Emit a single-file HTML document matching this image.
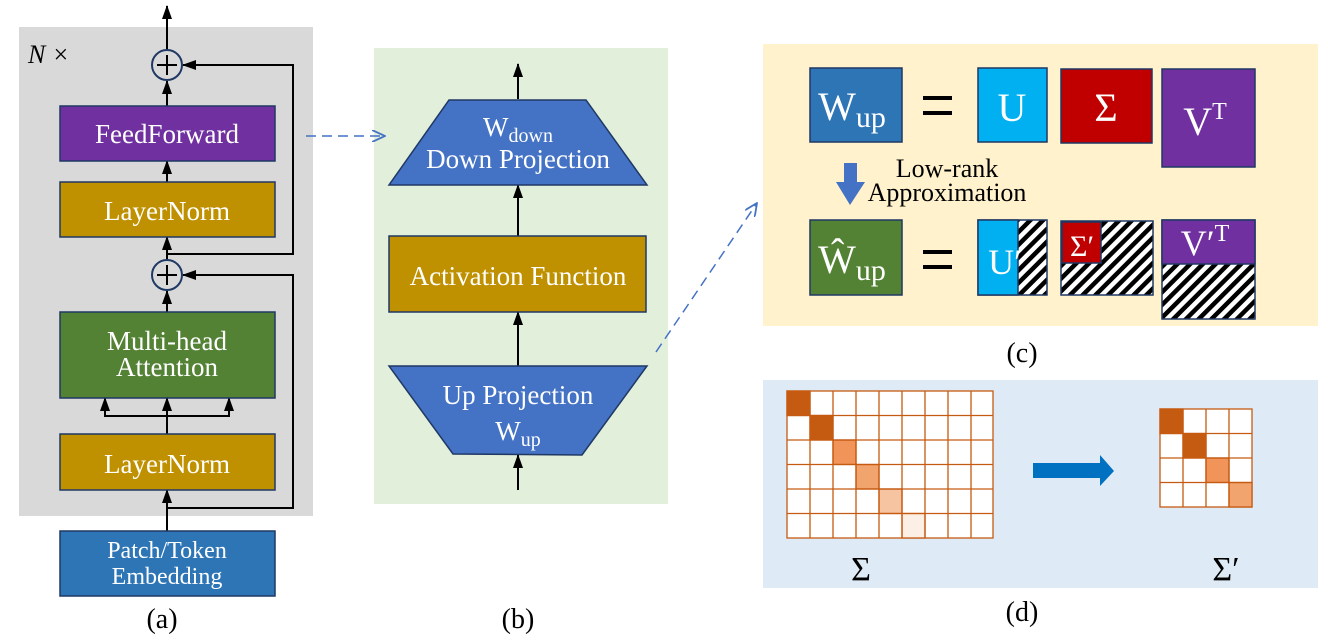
<!DOCTYPE html>
<html><head><meta charset="utf-8"><style>body{margin:0;background:#fff}svg{display:block}text{font-family:"Liberation Serif",serif}</style></head><body>
<svg width="1328" height="643" viewBox="0 0 1328 643" xmlns="http://www.w3.org/2000/svg">
<defs>
<marker id="ar" markerWidth="14" markerHeight="10" refX="13" refY="5" orient="auto" markerUnits="userSpaceOnUse"><path d="M0,0 L14,5 L0,10 z" fill="#000"/></marker>
<marker id="ab" markerWidth="14" markerHeight="12" refX="13" refY="6" orient="auto" markerUnits="userSpaceOnUse"><path d="M0,0 L13,6 L0,12" fill="none" stroke="#4472C4" stroke-width="1.8"/></marker>
<pattern id="h" width="9" height="9" patternUnits="userSpaceOnUse" patternTransform="rotate(45)"><rect width="9" height="9" fill="#fff"/><rect width="4.5" height="9" fill="#000"/></pattern>
</defs>
<!-- panel a -->
<rect x="19" y="27" width="294" height="489" fill="#D9D9D9"/>
<text x="28" y="63" font-size="26" font-style="italic">N ×</text>
<g stroke="#000" stroke-width="2" fill="none">
<line x1="167" y1="50" x2="167" y2="6" marker-end="url(#ar)"/>
<line x1="167" y1="106" x2="167" y2="81" marker-end="url(#ar)"/>
<line x1="167" y1="182" x2="167" y2="161" marker-end="url(#ar)"/>
<line x1="167" y1="260" x2="167" y2="237" marker-end="url(#ar)"/>
<polyline points="167,254 293,254 293,65 183,65" marker-end="url(#ar)"/>
<line x1="167" y1="312" x2="167" y2="291" marker-end="url(#ar)"/>
<polyline points="167,508 293,508 293,275 183,275" marker-end="url(#ar)"/>
<line x1="167" y1="434" x2="167" y2="398" marker-end="url(#ar)"/>
<polyline points="105,400 105,416 229,416 229,400"/>
<line x1="105" y1="412" x2="105" y2="398" marker-end="url(#ar)"/>
<line x1="229" y1="412" x2="229" y2="398" marker-end="url(#ar)"/>
<line x1="167" y1="531" x2="167" y2="490" marker-end="url(#ar)"/>
</g>
<g stroke="#1F3864" stroke-width="2" fill="none"><circle cx="167" cy="65" r="15"/><circle cx="167" cy="275" r="15"/></g>
<g stroke="#000" stroke-width="2"><line x1="157" y1="65" x2="177" y2="65"/><line x1="167" y1="55" x2="167" y2="75"/><line x1="157" y1="275" x2="177" y2="275"/><line x1="167" y1="265" x2="167" y2="285"/></g>
<g stroke="#1F3864" stroke-width="1.5">
<rect x="60" y="106" width="215" height="55" fill="#7030A0"/>
<rect x="60" y="182" width="215" height="55" fill="#BF9000"/>
<rect x="60" y="312" width="215" height="86" fill="#548235"/>
<rect x="60" y="434" width="215" height="56" fill="#BF9000"/>
<rect x="60" y="531" width="215" height="65" fill="#2E75B6"/>
</g>
<g fill="#fff" font-size="27" text-anchor="middle">
<text x="167" y="143">FeedForward</text>
<text x="167" y="220">LayerNorm</text>
<text x="167" y="350">Multi-head</text>
<text x="167" y="376">Attention</text>
<text x="167" y="473">LayerNorm</text>
<text x="167" y="558" font-size="24">Patch/Token</text>
<text x="167" y="584" font-size="24">Embedding</text>
</g>
<text x="162" y="628" font-size="28" text-anchor="middle">(a)</text>
<!-- panel b -->
<rect x="374" y="48" width="294" height="456" fill="#E2EFDA"/>
<line x1="306" y1="136" x2="385" y2="136" stroke="#4472C4" stroke-width="1.5" stroke-dasharray="10,6" marker-end="url(#ab)"/>
<g stroke="#000" stroke-width="2">
<line x1="518" y1="99" x2="518" y2="64" marker-end="url(#ar)"/>
<line x1="518" y1="236" x2="518" y2="185" marker-end="url(#ar)"/>
<line x1="518" y1="366" x2="518" y2="312" marker-end="url(#ar)"/>
<line x1="518" y1="490" x2="518" y2="455" marker-end="url(#ar)"/>
</g>
<g stroke="#1F3864" stroke-width="1.5" fill="#4472C4">
<polygon points="449,100 586,100 647,185 389,185"/>
<rect x="389" y="236" width="257" height="76" fill="#BF9000"/>
<polygon points="389,366 647,366 582,455 453,454"/>
</g>
<g fill="#fff" font-size="27" text-anchor="middle">
<text x="518" y="136">W<tspan font-size="20" dy="6">down</tspan></text>
<text x="518" y="168">Down Projection</text>
<text x="518" y="285">Activation Function</text>
<text x="518" y="404">Up Projection</text>
<text x="518" y="440">W<tspan font-size="20" dy="6">up</tspan></text>
</g>
<text x="518" y="628" font-size="28" text-anchor="middle">(b)</text>
<!-- panel c -->
<rect x="763" y="44" width="555" height="282" fill="#FFF2CC"/>
<line x1="656" y1="352" x2="757" y2="203" stroke="#4472C4" stroke-width="1.5" stroke-dasharray="10,6" marker-end="url(#ab)"/>
<g stroke="#1F3864" stroke-width="1.5">
<rect x="810" y="68" width="92" height="74" fill="#2E75B6"/>
<rect x="978" y="68" width="69" height="74" fill="#00B0F0"/>
<rect x="1061" y="69" width="91" height="74" fill="#C00000"/>
<rect x="1162" y="69" width="93" height="98" fill="#7030A0"/>
<rect x="810" y="220" width="92" height="75" fill="#548235"/>
<rect x="978" y="220" width="69" height="75" fill="url(#h)"/>
<rect x="978" y="220" width="40" height="75" fill="#00B0F0"/>
<rect x="1061" y="221" width="92" height="74" fill="url(#h)"/>
<rect x="1062" y="222" width="39" height="41" fill="#C00000"/>
<rect x="1162" y="220" width="93" height="99" fill="url(#h)"/>
<rect x="1162" y="220" width="93" height="44" fill="#7030A0"/>
</g>
<g fill="#000"><rect x="923" y="96" width="29" height="4"/><rect x="923" y="111" width="29" height="4"/><rect x="923" y="250" width="29" height="4"/><rect x="923" y="265" width="29" height="4"/></g>
<g fill="#fff" font-size="40" text-anchor="middle">
<text x="852" y="120">W<tspan font-size="30" dy="7">up</tspan></text>
<text x="1012" y="121">U</text>
<text x="1106" y="121">Σ</text>
<text x="1205" y="135">V<tspan font-size="24" dy="-16">T</tspan></text>
<text x="852" y="273">Ŵ<tspan font-size="30" dy="7">up</tspan></text>
<text x="1005" y="274" font-size="36">U′</text>
<text x="1082" y="256" font-size="30">Σ′</text>
<text x="1205" y="255" font-size="36">V′<tspan font-size="24" dy="-14">T</tspan></text>
</g>
<polygon points="844,163 857,163 857,182 865,182 850,205 836,182 844,182" fill="#4472C4"/>
<g font-size="26" text-anchor="middle"><text x="947" y="177">Low-rank</text><text x="947" y="201">Approximation</text></g>
<text x="1022" y="362" font-size="28" text-anchor="middle">(c)</text>
<!-- panel d -->
<rect x="763" y="380" width="555" height="208" fill="#DEEBF7"/>
<g stroke="#C55A11" stroke-width="1.3">
<rect x="787" y="391" width="206" height="147" fill="#fff"/>
<rect x="787" y="391" width="23" height="24.5" fill="#C55A11"/>
<rect x="810" y="415.5" width="23" height="24.5" fill="#C55A11"/>
<rect x="833" y="440" width="23" height="24.5" fill="#F0945A"/>
<rect x="856" y="464.5" width="23" height="24.5" fill="#F2A46E"/>
<rect x="879" y="489" width="23" height="24.5" fill="#F7C4A2"/>
<rect x="902" y="513.5" width="23" height="24.5" fill="#FCEFE6"/>
<path d="M810,391V538M833,391V538M856,391V538M879,391V538M902,391V538M925,391V538M948,391V538M971,391V538M787,415.5H993M787,440H993M787,464.5H993M787,489H993M787,513.5H993" fill="none"/>
<rect x="1160" y="409" width="92" height="98" fill="#fff"/>
<rect x="1160" y="409" width="23" height="24.5" fill="#C55A11"/>
<rect x="1183" y="433.5" width="23" height="24.5" fill="#C55A11"/>
<rect x="1206" y="458" width="23" height="24.5" fill="#F0945A"/>
<rect x="1229" y="482.5" width="23" height="24.5" fill="#F2A46E"/>
<path d="M1183,409V507M1206,409V507M1229,409V507M1160,433.5H1252M1160,458H1252M1160,482.5H1252" fill="none"/>
</g>
<polygon points="1033,463 1100,463 1100,455 1114,471 1100,486 1100,478 1033,478" fill="#0070C0"/>
<text x="861" y="580" font-size="34" text-anchor="middle">Σ</text>
<text x="1226" y="580" font-size="34" text-anchor="middle">Σ′</text>
<text x="1022" y="621" font-size="28" text-anchor="middle">(d)</text>
</svg>
</body></html>
